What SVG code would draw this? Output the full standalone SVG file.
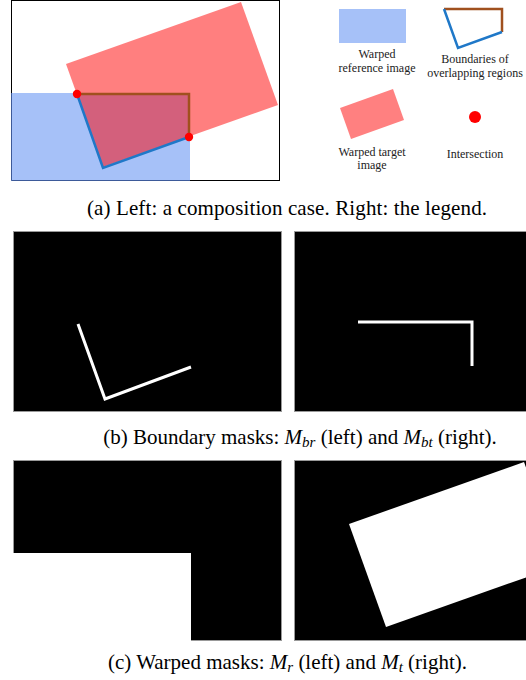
<svg xmlns="http://www.w3.org/2000/svg" width="526" height="680" viewBox="0 0 526 680">
<style>
.cap{font-family:"Liberation Serif","Times New Roman",serif;font-size:21px;fill:#000;text-anchor:middle}
.lg{font-family:"Liberation Serif","Times New Roman",serif;font-size:12px;fill:#222;text-anchor:middle}
.mi{font-style:italic}
.panel{fill:#000;stroke:#999;stroke-width:1}
.wl{fill:none;stroke:#fff;stroke-width:3;stroke-linejoin:miter}
.brown{fill:none;stroke:#a0501e;stroke-width:2.5}
.blue{fill:none;stroke:#1f78c8;stroke-width:2.5}
.dot{fill:#ff0000}
</style>
<rect width="526" height="680" fill="#fff"/>
<g id="composition">
<rect x="11.5" y="0.5" width="268" height="180" fill="#fff" stroke="#000" stroke-width="1"/>
<rect x="11" y="93" width="179" height="88" fill="#a6c1f8"/>
<polyline points="11.5,93 11.5,180.5 190,180.5" fill="none" stroke="#3d5a99" stroke-width="1"/>
<polygon points="66,64 241,2 278,105 103,167" fill="#ff0000" fill-opacity="0.5"/>
<polyline class="brown" points="77,94 189,94 189,137"/>
<polyline class="blue" points="189,137 103,168 77,94"/>
<circle class="dot" cx="77" cy="94" r="4.2"/>
<circle class="dot" cx="189" cy="137" r="4.2"/>
</g>
<g id="legend-reference">
<rect x="339" y="9" width="67" height="34" fill="#a6c1f8"/>
<text class="lg" x="377" y="57.5">Warped</text>
<text class="lg" x="377" y="71.5">reference image</text>
</g>
<g id="legend-boundaries">
<polyline class="brown" stroke-width="2" points="444,9 502,9 502,32"/>
<polyline class="blue" stroke-width="2" points="502,32 458,48 444,9"/>
<text class="lg" x="475" y="62.5">Boundaries of</text>
<text class="lg" x="475" y="76.5">overlapping regions</text>
</g>
<g id="legend-target">
<polygon points="340,108 393,89 404,120 351,139" fill="#ff8080"/>
<text class="lg" x="372" y="155.5">Warped target</text>
<text class="lg" x="372" y="168.5">image</text>
</g>
<g id="legend-intersection">
<circle class="dot" cx="475" cy="117" r="6"/>
<text class="lg" x="475" y="157.5">Intersection</text>
</g>
<text class="cap" x="287" y="215" textLength="400" lengthAdjust="spacing">(a) Left: a composition case. Right: the legend.</text>
<g id="mask-br">
<rect class="panel" x="13.5" y="231.5" width="268" height="180"/>
<polyline class="wl" points="78,324 105,399 191,367"/>
</g>
<g id="mask-bt">
<rect class="panel" x="294.5" y="231.5" width="268" height="180"/>
<polyline class="wl" points="358,322 472,322 472,366"/>
</g>
<text class="cap" x="300" y="444">(b) Boundary masks: <tspan class="mi">M</tspan><tspan class="mi" font-size="15" dy="3">br</tspan><tspan dy="-3"> (left) and </tspan><tspan class="mi">M</tspan><tspan class="mi" font-size="15" dy="3">bt</tspan><tspan dy="-3"> (right).</tspan></text>
<g id="mask-r">
<rect class="panel" x="13.5" y="460.5" width="268" height="180"/>
<rect x="13" y="553" width="178" height="88" fill="#fff"/>
</g>
<g id="mask-t">
<rect class="panel" x="294.5" y="460.5" width="268" height="180"/>
<polygon points="349,524 524,462 561,565 386,627" fill="#fff"/>
</g>
<text class="cap" x="287.5" y="669">(c) Warped masks: <tspan class="mi">M</tspan><tspan class="mi" font-size="15" dy="3">r</tspan><tspan dy="-3">  (left) and </tspan><tspan class="mi">M</tspan><tspan class="mi" font-size="15" dy="3">t</tspan><tspan dy="-3">  (right).</tspan></text>
</svg>
